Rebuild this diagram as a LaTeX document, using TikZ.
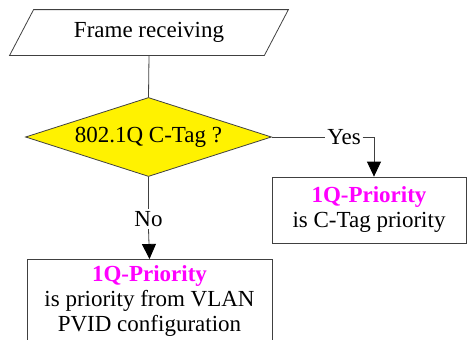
\documentclass[tikz,border=0pt]{standalone}
\usepackage{fontspec}
\setmainfont{Liberation Serif}
\usetikzlibrary{shapes.geometric,arrows.meta}
\definecolor{linegray}{HTML}{404040}
\definecolor{prio}{HTML}{FF00FF}
\tikzset{
  box/.style={draw=linegray, line width=0.8pt, rectangle, inner sep=0pt}
}
\begin{document}
\begin{tikzpicture}[x=1pt,y=-1pt,-{Triangle[length=15pt,width=14pt,black]},line width=0.8pt,draw=linegray,
  font=\fontsize{23}{25}\selectfont]

\path [use as bounding box, clip] (0,0) rectangle (467,340);

\node (frame) at (149,32.5) [minimum width=254, minimum height=45, inner sep=0pt] {Frame receiving};
\draw [-] ([xshift=-12]frame.south west) -- ([xshift=12]frame.north west)
  -- ([xshift=12]frame.north east) -- ([xshift=-12]frame.south east) -- cycle;

\node (dec) at (148.5,137) [diamond, shape aspect=3, minimum width=246, minimum height=79,
  inner sep=0pt, fill=yellow, draw=linegray] {802.1Q C-Tag ?};

\node (yes) at (344,137) [inner sep=1.5pt] {Yes};
\node (no) at (148.5,219) [inner sep=2pt] {No};

\node (prio1) at (369,210) [box, minimum width=194, minimum height=66, align=center]
  {\textcolor{prio}{\bfseries 1Q-Priority}\\is C-Tag priority};

\node (prio2) at (149.5,259) [box, minimum width=245, minimum height=95, anchor=north] {};
\node (prio2txt) at ([yshift=-2.5]prio2.north) [anchor=north, align=center]
  {\textcolor{prio}{\bfseries 1Q-Priority}\\is priority from VLAN\\PVID configuration};

\path [-]
    (frame.south) edge (dec.north)
    (dec.east) edge (yes.west)
    (dec.south) edge (no.north)
;
\draw (yes.east) -| ([xshift=5]prio1.north);
\draw (no.south) -- (prio2.north);

\end{tikzpicture}
\end{document}
